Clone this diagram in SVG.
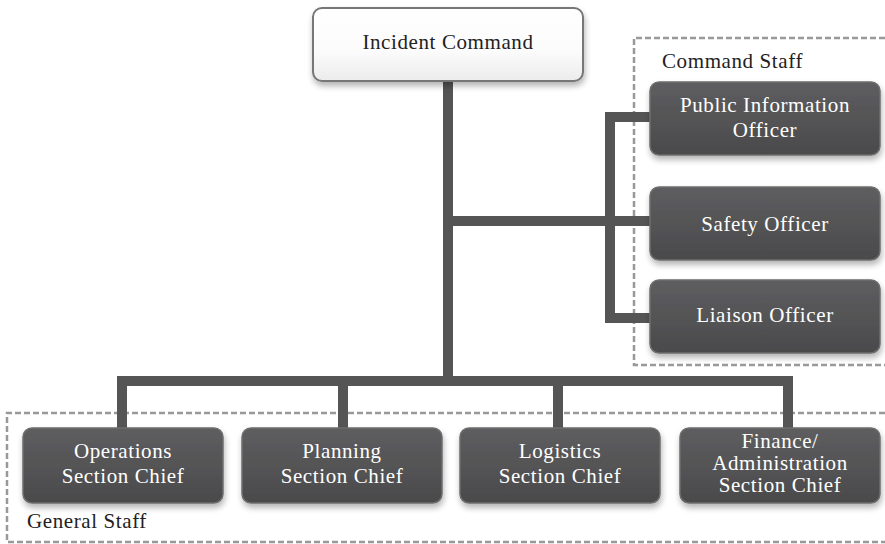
<svg xmlns="http://www.w3.org/2000/svg" width="885" height="544" viewBox="0 0 885 544">
<style>
.t{font-family:"Liberation Serif","Times New Roman",serif;font-size:21px;letter-spacing:0.6px;text-anchor:middle}
.w{fill:#ffffff}
.k{fill:#222222}
.lbl{font-family:"Liberation Serif","Times New Roman",serif;font-size:21px;letter-spacing:0.6px;fill:#222222}
.dk{fill:url(#gd);stroke:#6e6e6e;stroke-width:1.5;filter:url(#sh)}
.lt{fill:url(#gl);stroke:#777777;stroke-width:2;filter:url(#sh)}
.dash{fill:none;stroke:#999999;stroke-width:2.5;stroke-dasharray:6 3}
.c{fill:none;stroke:#555555;stroke-width:10;stroke-linejoin:miter}
</style>
<defs>
<linearGradient id="gd" x1="0" y1="0" x2="0" y2="1">
<stop offset="0" stop-color="#5e5e60"/>
<stop offset="1" stop-color="#4a4a4b"/>
</linearGradient>
<linearGradient id="gl" x1="0" y1="0" x2="0" y2="1">
<stop offset="0" stop-color="#ffffff"/>
<stop offset="0.6" stop-color="#fbfbfb"/>
<stop offset="1" stop-color="#ececec"/>
</linearGradient>
<filter id="sh" x="-10%" y="-10%" width="125%" height="140%">
<feGaussianBlur in="SourceAlpha" stdDeviation="3"/>
<feOffset dx="1" dy="4" result="b"/>
<feComponentTransfer><feFuncA type="linear" slope="0.3"/></feComponentTransfer>
<feMerge><feMergeNode/><feMergeNode in="SourceGraphic"/></feMerge>
</filter>
</defs>
<rect width="885" height="544" fill="#ffffff"/>

<g id="command-staff-group">
<path class="dash" d="M885 38 H634 V365 H885"/>
<text class="lbl" x="662" y="68">Command Staff</text>
</g>
<g id="general-staff-group">
<path class="dash" d="M885 413 H7 V542 H885"/>
<text class="lbl" x="27" y="528">General Staff</text>
</g>

<g id="connectors">
<path class="c" d="M448 80 V381"/>
<path class="c" d="M448 221 H652"/>
<path class="c" d="M652 117 H610 V318 H652"/>
<path class="c" d="M122 430 V381 H788 V430"/>
<path class="c" d="M343 381 V430"/>
<path class="c" d="M558 381 V430"/>
</g>

<g id="incident-command">
<rect class="lt" x="313" y="8" width="270" height="73" rx="9"/>
<text class="t k" x="448" y="49">Incident Command</text>
</g>
<g id="public-information-officer">
<rect class="dk" x="650" y="82" width="230" height="73" rx="9"/>
<text class="t w" x="765" y="112">Public Information</text>
<text class="t w" x="765" y="137">Officer</text>
</g>
<g id="safety-officer">
<rect class="dk" x="650" y="187" width="230" height="73" rx="9"/>
<text class="t w" x="765" y="231">Safety Officer</text>
</g>
<g id="liaison-officer">
<rect class="dk" x="650" y="280" width="230" height="73" rx="9"/>
<text class="t w" x="765" y="322">Liaison Officer</text>
</g>
<g id="operations-section-chief">
<rect class="dk" x="23" y="428" width="200" height="75" rx="9"/>
<text class="t w" x="123" y="458">Operations</text>
<text class="t w" x="123" y="483">Section Chief</text>
</g>
<g id="planning-section-chief">
<rect class="dk" x="242" y="428" width="200" height="75" rx="9"/>
<text class="t w" x="342" y="458">Planning</text>
<text class="t w" x="342" y="483">Section Chief</text>
</g>
<g id="logistics-section-chief">
<rect class="dk" x="460" y="428" width="200" height="75" rx="9"/>
<text class="t w" x="560" y="458">Logistics</text>
<text class="t w" x="560" y="483">Section Chief</text>
</g>
<g id="finance-administration-section-chief">
<rect class="dk" x="680" y="428" width="200" height="75" rx="9"/>
<text class="t w" x="780" y="448">Finance/</text>
<text class="t w" x="780" y="470">Administration</text>
<text class="t w" x="780" y="492">Section Chief</text>
</g>
</svg>
